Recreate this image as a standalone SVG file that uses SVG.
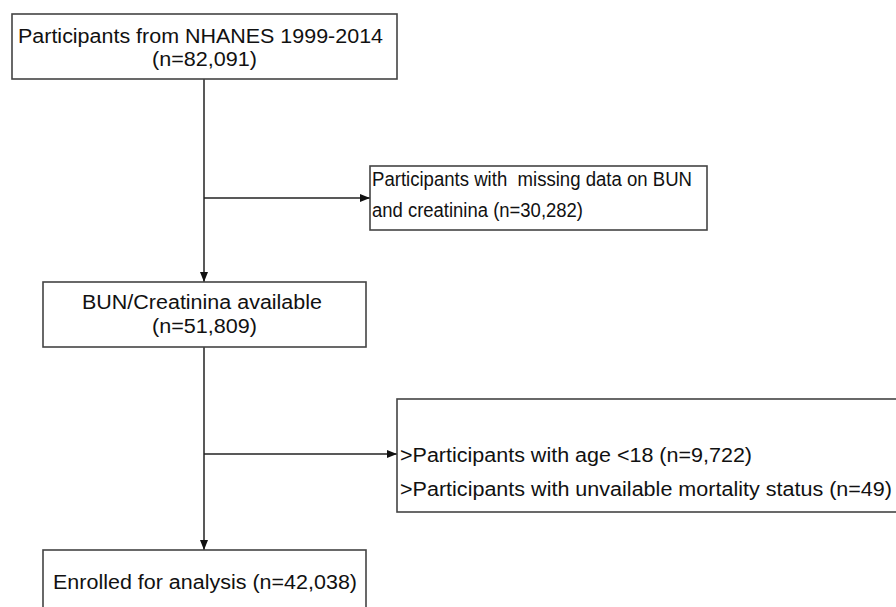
<svg xmlns="http://www.w3.org/2000/svg" width="896" height="607" viewBox="0 0 896 607">
<defs>
<style>
.box{fill:#fff;stroke:#444;stroke-width:1.6}
.t{font-family:"Liberation Sans",Arial,sans-serif;font-size:19.5px;fill:#111;white-space:pre}
.ln{stroke:#222;stroke-width:1.5;fill:none}
</style>
<marker id="ah" markerWidth="10" markerHeight="8" refX="10" refY="4" orient="auto" markerUnits="userSpaceOnUse">
<path d="M0,0 L10,4 L0,8 Z" fill="#111"/>
</marker>
</defs>
<rect width="896" height="607" fill="#fff"/>
<g id="connectors">
<line class="ln" x1="204" y1="79" x2="204" y2="282" marker-end="url(#ah)"/>
<line class="ln" x1="204" y1="198" x2="370" y2="198" marker-end="url(#ah)"/>
<line class="ln" x1="204" y1="347" x2="204" y2="550" marker-end="url(#ah)"/>
<line class="ln" x1="204" y1="454" x2="397" y2="454" marker-end="url(#ah)"/>
</g>
<g id="n1">
<rect class="box" x="12" y="14" width="385" height="65"/>
<text class="t" x="18" y="42.5" textLength="365" lengthAdjust="spacingAndGlyphs">Participants from NHANES 1999-2014</text>
<text class="t" x="152" y="66" textLength="105" lengthAdjust="spacingAndGlyphs">(n=82,091)</text>
</g>
<g id="n2">
<rect class="box" x="370" y="166" width="337" height="64"/>
<text class="t" x="372" y="186" textLength="320" lengthAdjust="spacingAndGlyphs" xml:space="preserve">Participants with  missing data on BUN</text>
<text class="t" x="372" y="217" textLength="211" lengthAdjust="spacingAndGlyphs">and creatinina (n=30,282)</text>
</g>
<g id="n3">
<rect class="box" x="43" y="282" width="323" height="65"/>
<text class="t" x="82" y="309" textLength="240" lengthAdjust="spacingAndGlyphs">BUN/Creatinina available</text>
<text class="t" x="152" y="333" textLength="105" lengthAdjust="spacingAndGlyphs">(n=51,809)</text>
</g>
<g id="n4">
<rect class="box" x="397" y="399" width="510" height="113"/>
<text class="t" x="400" y="462" textLength="352" lengthAdjust="spacingAndGlyphs">&gt;Participants with age &lt;18 (n=9,722)</text>
<text class="t" x="400" y="496" textLength="492" lengthAdjust="spacingAndGlyphs">&gt;Participants with unvailable mortality status (n=49)</text>
</g>
<g id="n5">
<rect class="box" x="43" y="550" width="323" height="70"/>
<text class="t" x="53" y="589" textLength="304" lengthAdjust="spacingAndGlyphs">Enrolled for analysis (n=42,038)</text>
</g>
</svg>
